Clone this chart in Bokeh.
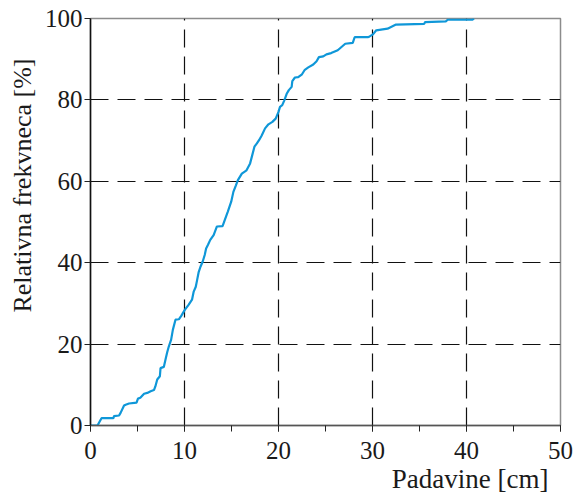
from bokeh.plotting import figure
from bokeh.models import Range1d, SingleIntervalTicker, FixedTicker, Title
from bokeh.embed import file_html
from bokeh.resources import INLINE

padavine_cm = [
    0.0, 0.74, 1.17, 2.44, 2.5, 3.04, 3.2, 3.57, 3.74, 4.1,
    4.9, 5.05, 5.3, 5.7, 6.04, 6.4, 6.75, 6.9, 7.1, 7.38,
    7.45, 7.8, 7.98, 8.16, 8.33, 8.58, 8.76, 9.04, 9.4, 9.67,
    10.03, 10.45, 10.8, 10.98, 11.2, 11.33, 11.5, 11.7, 11.94, 12.15,
    12.3, 12.5, 12.74, 13.1, 13.45, 14.05, 14.3, 14.6, 14.97, 15.2,
    15.47, 15.68, 16.1, 16.6, 16.98, 17.16, 17.44, 17.7, 17.93, 18.2,
    18.57, 18.93, 19.35, 19.7, 19.99, 20.16, 20.4, 20.62, 20.87, 21.1,
    21.4, 21.47, 21.75, 22.1, 22.5, 22.8, 23.17, 23.7, 24.05, 24.3,
    24.76, 25.1, 25.6, 26.3, 26.7, 27.1, 27.9, 28.1, 29.5, 29.7,
    30.05, 30.4, 31.6, 32.5, 35.5, 35.6, 37.8, 38.0, 40.6, 40.8,
]
rel_frekvenca = [
    0.0, 0.0, 1.8, 1.8, 2.3, 2.45, 3.1, 4.9, 5.1, 5.4,
    5.6, 6.6, 6.8, 7.8, 8.0, 8.4, 8.7, 9.6, 11.3, 12.1,
    14.1, 14.4, 16.2, 18.0, 19.4, 21.1, 23.5, 26.0, 26.1, 27.0,
    28.4, 29.7, 30.9, 32.9, 34.1, 35.6, 37.6, 39.0, 40.3, 41.9,
    43.5, 44.4, 45.6, 46.8, 48.9, 49.0, 50.6, 52.5, 55.0, 57.4,
    59.0, 60.3, 61.9, 62.7, 64.4, 66.0, 68.5, 69.3, 70.1, 71.2,
    73.0, 74.0, 74.6, 75.4, 77.0, 78.3, 78.7, 79.9, 81.5, 82.4,
    83.2, 84.6, 85.5, 85.6, 86.3, 87.4, 88.0, 88.7, 89.5, 90.5,
    90.7, 91.2, 91.5, 92.2, 93.0, 93.8, 94.0, 95.4, 95.4, 95.6,
    96.1, 97.1, 97.5, 98.5, 98.7, 99.1, 99.3, 99.7, 99.7, 100.0,
]

x_label = "Padavine [cm]"
y_label = "Relativna frekvneca [%]"
x_grid_ticks = [10, 20, 30, 40]
y_grid_ticks = [20, 40, 60, 80]

FONT = "Liberation Serif"

p = figure(width=575, height=493, output_backend="svg", toolbar_location=None,
           x_range=Range1d(0, 50), y_range=Range1d(0, 100),
           min_border_left=88, min_border_right=15, min_border_top=18,
           min_border_bottom=67)
p.background_fill_color = "white"
p.border_fill_color = "white"
p.outline_line_color = "#8c8c8c"
p.outline_line_width = 1.5

p.xaxis.ticker = SingleIntervalTicker(interval=10, num_minor_ticks=2)
p.yaxis.ticker = SingleIntervalTicker(interval=20, num_minor_ticks=0)

for ax in (p.xaxis[0], p.yaxis[0]):
    ax.major_label_text_font = FONT
    ax.major_label_text_font_size = "25px"
    ax.major_label_text_color = "#1a1a1a"
    ax.major_tick_in = 0
    ax.major_tick_out = 6
    ax.minor_tick_in = 0
    ax.minor_tick_out = 6
    ax.major_tick_line_color = "#222222"
    ax.minor_tick_line_color = "#222222"
    ax.axis_line_width = 1.5

p.yaxis.axis_line_color = "#111111"
p.xaxis.axis_line_color = "#555555"
p.xaxis.major_label_standoff = 10
p.yaxis.major_label_standoff = 2

p.xgrid.ticker = FixedTicker(ticks=x_grid_ticks)
p.ygrid.ticker = FixedTicker(ticks=y_grid_ticks)
for g in (p.xgrid[0], p.ygrid[0]):
    g.grid_line_color = "#111111"
    g.grid_line_width = 1.2
    g.grid_line_dash = "18 9"

p.line(padavine_cm, rel_frekvenca, line_color="#0f97d8", line_width=2.2)

p.add_layout(Title(text=y_label, align="right", offset=40, text_font=FONT,
                   text_font_size="26px", text_font_style="normal",
                   text_color="#1a1a1a"), "left")
p.add_layout(Title(text=x_label, align="right", offset=12, standoff=0,
                   text_font=FONT, text_font_size="27px",
                   text_font_style="normal", text_color="#1a1a1a"), "below")

open("out.html", "w").write(file_html(p, INLINE))
